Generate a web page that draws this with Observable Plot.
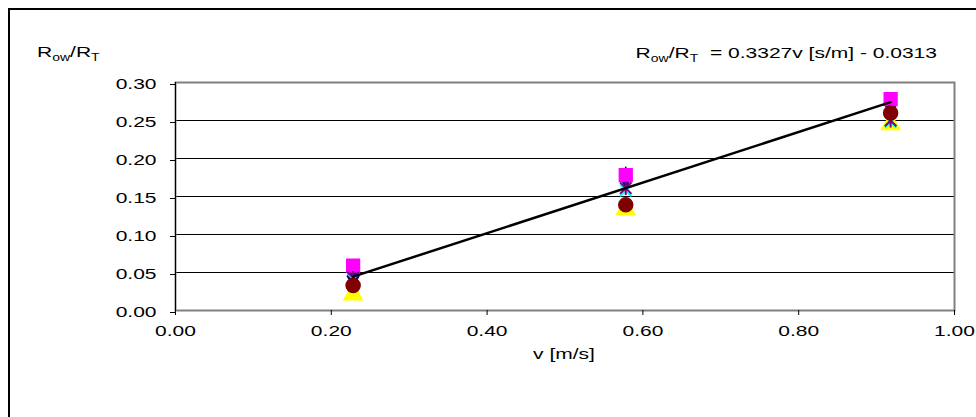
<!DOCTYPE html>
<html><head><meta charset="utf-8">
<script src="https://cdn.jsdelivr.net/npm/d3@7"></script>
<script src="https://cdn.jsdelivr.net/npm/@observablehq/plot@0.6"></script>
<style>
body{margin:0;background:#fff;}
#wrap{position:relative;width:976px;height:417px;overflow:hidden;background:#fff;}
#border{position:absolute;left:8px;top:8px;width:1000px;height:500px;border:2px solid #000;box-sizing:border-box;pointer-events:none;}
svg{display:block;}
</style></head><body><div id="wrap"></div>
<script>
// ---- data ----
const vValues = [0.228, 0.578, 0.918];
const diamondVals  = [0.045, 0.175, 0.271];
const squareVals   = [0.059, 0.178, 0.278];
const triangleVals = [0.021, 0.133, 0.245];
const crossVals    = [0.041, 0.158, 0.248];
const starVals     = [0.043, 0.161, 0.250];
const circleVals   = [0.033, 0.139, 0.260];
const xTicks = [0, 0.2, 0.4, 0.6, 0.8, 1.0];
const yTicks = [0, 0.05, 0.10, 0.15, 0.20, 0.25, 0.30];
const trendSlope = 0.3327;
const trendIntercept = -0.0313;

const fmt = d3.format(".2f");
const toRows = (vals) => vValues.map((v, i) => ({v, r: vals[i]}));

const crossSym = {draw(ctx, size){ const r = Math.sqrt(size)/2; ctx.moveTo(-r,-r); ctx.lineTo(r,r); ctx.moveTo(-r,r); ctx.lineTo(r,-r); }};
const starSym = {draw(ctx, size){ const r = Math.sqrt(size)/2; ctx.moveTo(-r,-r); ctx.lineTo(r,r); ctx.moveTo(-r,r); ctx.lineTo(r,-r); ctx.moveTo(0,-r*1.2); ctx.lineTo(0,r*1.2); }};

const vExt = d3.extent(vValues);
const trendRows = vExt.map(v => ({v, r: trendSlope * v + trendIntercept}));

const FS = 15;
const chart = Plot.plot({
  width: 976, height: 417,
  marginLeft: 175, marginRight: 22, marginTop: 82, marginBottom: 107,
  style: {fontFamily: "'Liberation Sans', Arial, sans-serif", fontSize: FS + "px", color: "#000", background: "#fff"},
  x: {domain: [0, 1]},
  y: {domain: [0, 0.3]},
  marks: [
    Plot.ruleY(yTicks.slice(1, -1), {stroke: "#000", strokeWidth: 1}),
    Plot.frame({stroke: "#808080", strokeWidth: 2}),
    Plot.ruleX([0], {stroke: "#000", strokeWidth: 1}),
    Plot.axisY({ticks: yTicks, tickFormat: fmt, tickSize: 5, tickPadding: 14, label: null, fontSize: FS, dy: 2}),
    Plot.axisX({ticks: xTicks, tickFormat: fmt, tickSize: 5, tickPadding: 10, label: null, fontSize: FS}),
    Plot.dot(toRows(diamondVals), {x: "v", y: "r", symbol: "diamond", r: 6, fill: "#000080", stroke: "#000080"}),
    Plot.dot(toRows(squareVals), {x: "v", y: "r", symbol: "square", r: 7.2, fill: "#FF00FF", stroke: "#FF00FF"}),
    Plot.dot(toRows(triangleVals), {x: "v", y: "r", symbol: "triangle", r: 6.8, fill: "#FFFF00", stroke: "#FFFF00"}),
    Plot.dot(toRows(crossVals), {x: "v", y: "r", symbol: crossSym, r: 6.5, fill: "none", stroke: "#00FFFF", strokeWidth: 2}),
    Plot.dot(toRows(starVals), {x: "v", y: "r", symbol: starSym, r: 6.5, fill: "none", stroke: "#800080", strokeWidth: 2}),
    Plot.dot(toRows(circleVals), {x: "v", y: "r", symbol: "circle", r: 7, fill: "#800000", stroke: "#800000"}),
    Plot.line(trendRows, {x: "v", y: "r", stroke: "#000", strokeWidth: 2.5})
  ]
});

const wrap = document.getElementById("wrap");
wrap.appendChild(chart);
const b = document.createElement("div"); b.id = "border"; wrap.appendChild(b);

const svg = d3.select(chart);
function addRT(x, y, anchor, suffix){
  const t = svg.append("text").attr("x", x).attr("y", y).attr("text-anchor", anchor)
    .attr("font-size", FS).attr("fill", "#000");
  t.append("tspan").text("R");
  t.append("tspan").attr("font-size", 10).attr("dy", 4).text("ow");
  t.append("tspan").attr("dy", -4).text("/R");
  t.append("tspan").attr("font-size", 10).attr("dy", 4).text("T");
  if (suffix) t.append("tspan").attr("dy", -4).text(suffix);
  return t;
}
addRT(37, 57, "start", null);
addRT(937, 58, "end", "\u00a0 = 0.3327v [s/m] - 0.0313");
svg.append("text").attr("x", 564).attr("y", 359).attr("text-anchor", "middle").attr("font-size", FS).attr("fill", "#000").text("v [m/s]");

// the reference text is horizontally stretched: widen every label's glyphs
const SX = 1.4;
svg.selectAll("text").each(function(){
  const len = this.getComputedTextLength();
  if (len > 0) {
    this.setAttribute("textLength", (len * SX).toFixed(2));
    this.setAttribute("lengthAdjust", "spacingAndGlyphs");
  }
});
</script>
</body></html>
